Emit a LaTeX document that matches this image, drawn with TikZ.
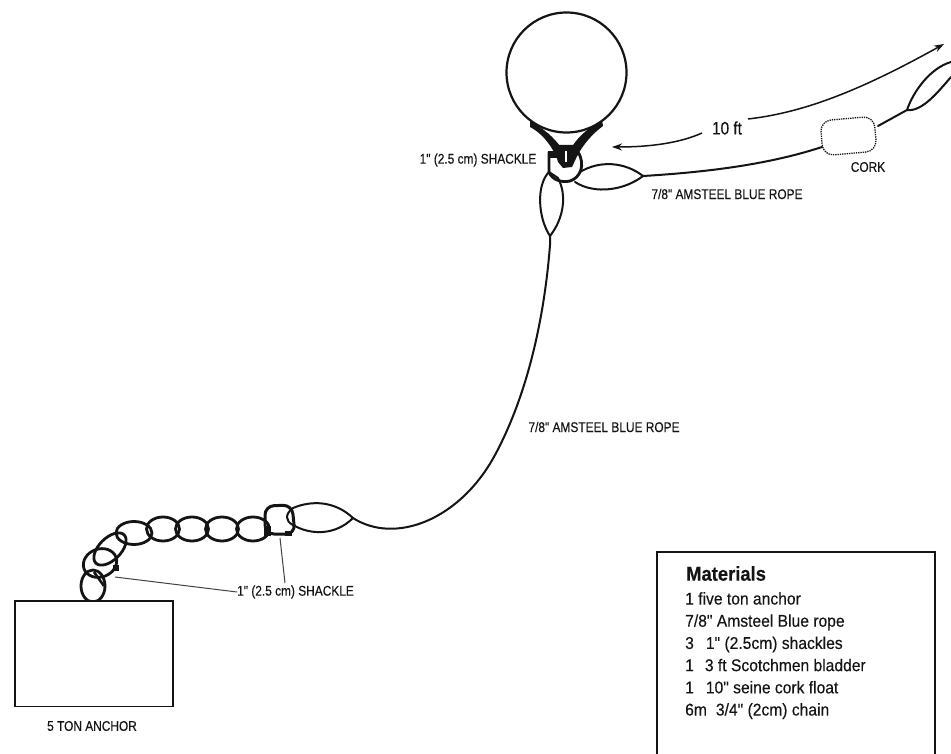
\documentclass[tikz,border=0pt]{standalone}
\usepackage{fontspec}
\setmainfont{Liberation Sans}
\newfontfamily\narrowf[FakeStretch=0.85,FakeBold=0.25]{Liberation Sans}
\newfontfamily\matf[FakeStretch=0.92,FakeBold=0.25]{Liberation Sans}
\definecolor{ink}{gray}{0.08}
\usetikzlibrary{arrows.meta}
\tikzset{
 rope/.style={draw=ink,line width=2pt,line cap=round,line join=round},
 lnk/.style={draw=ink,line width=2.8pt,fill=none},
 lbl/.style={inner sep=0pt,text=ink,font=\fontsize{14}{16}\narrowf},
 leader/.style={draw=ink!80,line width=1pt},
 dim/.style={draw=ink,line width=1.5pt,-{Stealth[length=10pt,width=7pt]}},
 frame/.style={draw=ink,line width=1.5pt},
}
\begin{document}
\begin{tikzpicture}[x=1pt,y=-1pt]
\useasboundingbox (0,0) rectangle (951,754);
\fill[white] (0,0) rectangle (951,754);
% bladder
\node[circle,draw=ink,line width=2.2pt,minimum size=120pt,inner sep=0pt] (ball) at (566.5,72.5) {};
% harness
\fill[ink] (530,121) .. controls (545,130) and (552,135) .. (563,150) -- (556,156) .. controls (550,143) and (540,132) .. (530,127) -- cycle;
\fill[ink] (602,120) .. controls (590,128) and (580,133) .. (570,150) -- (577,156) .. controls (583,145) and (592,134) .. (603,126) -- cycle;
% shackle
\fill[ink] (557,145) -- (577,145) -- (580,150) -- (572,167) -- (563,168) -- (558,162) -- (555,152) -- cycle;
\fill[ink] (548,151) rectangle (558,158);
\fill[white] (564.5,151) rectangle (567,162);
\draw[lnk] (549,152) -- (549,172) .. controls (552,180) and (562,183) .. (570,181) .. controls (580,178) and (586,165) .. (578,152);
\draw[rope] (549,172) -- (558,178);
% eyes at ball
\coordinate (eyeb) at (550,236);
\coordinate (eyer) at (643,176);
\draw[rope] (eyeb) .. controls (538,218) and (536,185) .. (549,172) (eyeb) .. controls (564,218) and (567,195) .. (558,178);
\draw[rope] (eyer) .. controls (625,162) and (600,160) .. (580,172) (eyer) .. controls (625,190) and (595,195) .. (575,182);
% main rope
\coordinate (eyea) at (353,518);
\draw[rope] (eyeb) -- (550,245) .. controls (545,310) and (530,390) .. (495,455) .. controls (460,520) and (395,545) .. (eyea);
% cork and its ropes
\node[draw=ink,densely dotted,line width=1.3pt,minimum width=54pt,minimum height=35pt,rounded corners=11pt,rotate=5,inner sep=0pt] (cork) at (848.5,136) {};
\coordinate (ckl) at (822,147);
\coordinate (ckr) at (878,126);
\draw[rope] (eyer) .. controls (710,172) and (770,164) .. (ckl);
\coordinate (eyet) at (907,110);
\draw[rope] (ckr) -- (eyet);
\draw[rope] (eyet) .. controls (913,92) and (930,68) .. (951,62) (eyet) .. controls (922,112) and (938,92) .. (951,77);
% 10 ft
\node[inner sep=0pt,text=ink,font=\fontsize{18}{20}\narrowf] (ten) at (727,128) {10 ft};
\coordinate (al) at (612,147);
\coordinate (ar) at (944,44);
\coordinate (ls) at (702,133);
\coordinate (rs) at (748,119);
\draw[dim] (ls) .. controls (680,143) and (650,147) .. (al);
\draw[dim] (rs) .. controls (810,112) and (870,85) .. (ar);
% chain
\foreach \n/\x/\y/\a/\b/\r in {c1/93/586/12/16/0,c2/100/563/17/14/20,c3/110/549/20/11/45,c4/134/533/18/11.5/0,c5/163/529/16.5/12/0,c6/192/529/16.5/12/0,c7/222/529/16.5/12/0,c8/253/529/16.5/12/0}{
 \draw[lnk,rotate around={\r:(\x,\y)}] (\x,\y) ellipse [x radius=\a,y radius=\b];
}
\draw[draw=ink,line width=3pt,rounded corners=9pt] (265,534) -- (265,506) -- (292,505) -- (295,534) -- cycle;
\fill[ink] (264,526) rectangle (271,536);
\fill[ink] (285,531) rectangle (292,536);
\fill[ink] (113,565) rectangle (119,571);
\draw[line width=2.6pt,draw=ink] (94,572) -- (104,586);
% anchor eye
\draw[rope] (eyea) .. controls (335,501) and (312,500) .. (293,508) (eyea) .. controls (335,536) and (310,535) .. (293,525);
\draw[rope] (293,508) .. controls (285,514) and (285,521) .. (293,525);
% leaders
\node[lbl,anchor=west] (sh2) at (237,592) {1" (2.5 cm) SHACKLE};
\coordinate (s2a) at (115,577);
\coordinate (s2b) at (280,538);
\coordinate (s2c) at (285,583);
\draw[leader] (s2a) -- (sh2.west);
\draw[leader] (s2b) -- (s2c);
% anchor
\node[frame,fill=white,minimum width=158pt,minimum height=105.5pt,inner sep=0pt,anchor=north west] (anchor) at (14,600) {};
\node[lbl] (anl) at (92,726) {5 TON ANCHOR};
\node[lbl] (sh1) at (478,160) {1" (2.5 cm) SHACKLE};
\node[lbl] (r1) at (727,194) {7/8" AMSTEEL BLUE ROPE};
\node[lbl] (r2) at (604,427) {7/8" AMSTEEL BLUE ROPE};
\node[lbl] (ck) at (868,167) {CORK};
% materials
\draw[frame] (657,754) -- (657,552) -- (935,552) -- (935,754);
\node[inner sep=0pt,anchor=west,text=ink,font=\fontsize{20}{22}\matf\bfseries] (mt) at (686,573.5) {Materials};
\node[inner sep=0pt,anchor=north west,text=ink,align=left,font=\fontsize{17}{22.2}\matf] (ml) at (685,592) {1 five ton anchor\\7/8" Amsteel Blue rope\\3\hspace{12pt}1" (2.5cm) shackles\\1\hspace{11pt}3 ft Scotchmen bladder\\1\hspace{12pt}10" seine cork float\\6m\hspace{9pt}3/4" (2cm) chain};
\end{tikzpicture}
\end{document}
